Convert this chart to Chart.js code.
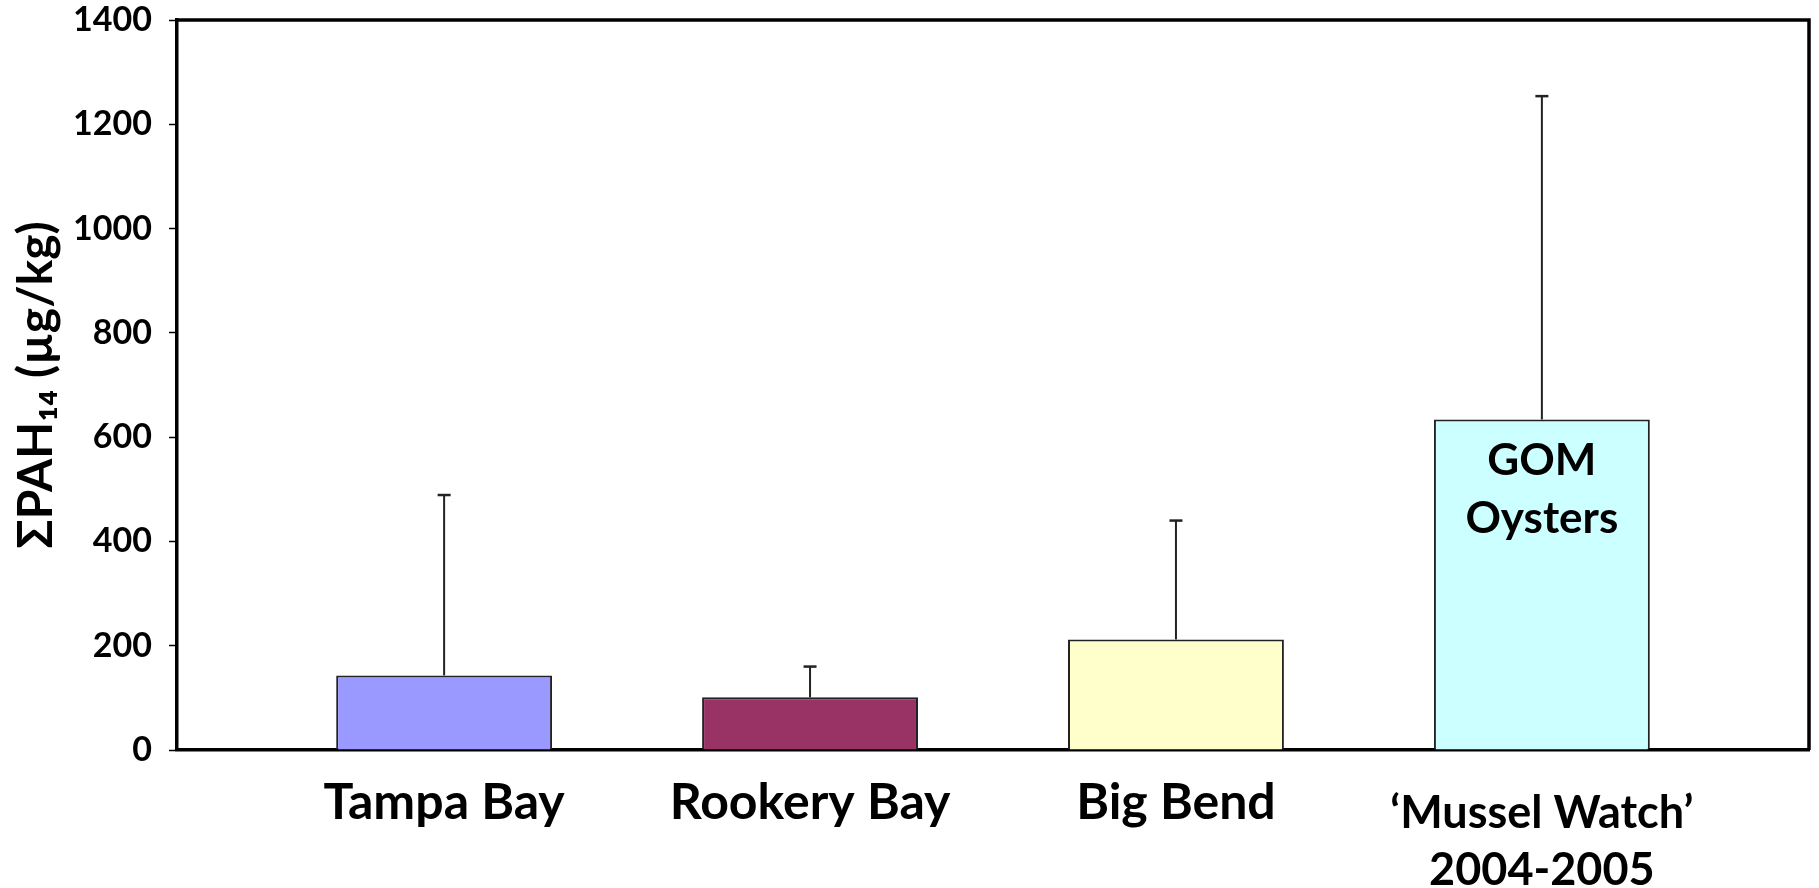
<!DOCTYPE html>
<html>
<head>
<meta charset="utf-8">
<script src="https://cdn.jsdelivr.net/npm/chart.js@4"></script>
<style>
  html, body { margin: 0; padding: 0; background: #fff; }
  #wrap { width: 1819px; height: 888px; position: relative; }
</style>
</head>
<body>
<div id="wrap"><canvas id="pah-chart"></canvas></div>
<script>
// --- Data ---
const sites = ['Tampa Bay', 'Rookery Bay', 'Big Bend', ['\u2018Mussel Watch\u2019', '2004-2005']];
const meanPAH = [143, 101, 212, 634];
const sdPAH = [346, 59, 228, 620];
const barColors = ['#9999FF', '#993366', '#FFFFCC', '#CCFFFF'];
const yTicks = [0, 200, 400, 600, 800, 1000, 1200, 1400];
const gomNote = ['GOM', 'Oysters'];

const FONT = 'Lato, "DejaVu Sans", sans-serif';

// error bars (upper only, like the Excel original)
const errorBars = {
  id: 'errorBars',
  afterDatasetsDraw(chart) {
    const { ctx, scales: { y } } = chart;
    const meta = chart.getDatasetMeta(0);
    ctx.save();
    ctx.strokeStyle = '#222';
    meta.data.forEach((bar, i) => {
      const top = y.getPixelForValue(meanPAH[i] + sdPAH[i]);
      ctx.lineWidth = 2;
      ctx.beginPath();
      ctx.moveTo(bar.x, bar.y);
      ctx.lineTo(bar.x, top);
      ctx.stroke();
      ctx.lineWidth = 2.5;
      ctx.beginPath();
      ctx.moveTo(bar.x - 6.5, top);
      ctx.lineTo(bar.x + 6.5, top);
      ctx.stroke();
    });
    ctx.restore();
  },
};

// top + right frame lines and the text inside the GOM bar
const frame = {
  id: 'frame',
  afterDraw(chart) {
    const { ctx, chartArea: a } = chart;
    ctx.save();
    ctx.strokeStyle = '#000';
    ctx.lineWidth = 3.5;
    ctx.beginPath();
    ctx.moveTo(a.left, a.top);
    ctx.lineTo(a.right, a.top);
    ctx.lineTo(a.right, a.bottom);
    ctx.stroke();

    const bar = chart.getDatasetMeta(0).data[3];
    ctx.fillStyle = '#000';
    ctx.font = `bold 44px ${FONT}`;
    ctx.textAlign = 'center';
    ctx.textBaseline = 'middle';
    ctx.fillText(gomNote[0], bar.x, bar.y + 41);
    ctx.fillText(gomNote[1], bar.x, bar.y + 99);
    ctx.restore();
  },
};

new Chart(document.getElementById('pah-chart'), {
  type: 'bar',
  data: {
    datasets: [{
      data: meanPAH.map((v, i) => ({ x: i, y: v })),
      backgroundColor: barColors,
      borderColor: '#222',
      borderWidth: 2,
      categoryPercentage: 1,
      barPercentage: 0.59,
    }],
  },
  options: {
    responsive: true,
    maintainAspectRatio: false,
    animation: false,
    layout: { padding: { top: 20, right: 10, left: 0, bottom: 0 } },
    plugins: {
      legend: { display: false },
      tooltip: { enabled: false },
    },
    scales: {
      x: {
        type: 'linear',
        offset: false,
        min: -0.73,
        max: 3.73,
        afterBuildTicks: axis => { axis.ticks = sites.map((s, i) => ({ value: i })); },
        afterFit: axis => {
          axis.height = 138;
          axis.paddingLeft = 0;
          axis.paddingRight = 0;
        },
        grid: { display: false, drawTicks: false },
        border: { display: true, color: '#000', width: 3.5 },
        ticks: {
          color: '#000',
          padding: 35,
          maxRotation: 0,
          autoSkip: false,
          callback: v => sites[v],
          // the original's labels sit a little off the bar centres
          labelOffset: c => [-21, 31, 29, 9][c.index] || 0,
          font: c => c.index === 3
            ? { family: FONT, size: 45, weight: 'bold', lineHeight: 1.27 }
            : { family: FONT, size: 50, weight: 'bold', lineHeight: 0.72 },
        },
      },
      y: {
        min: 0,
        max: 1400,
        afterBuildTicks: axis => { axis.ticks = yTicks.map(v => ({ value: v })); },
        afterFit: axis => {
          axis.width = 177;
          axis.paddingTop = 0;
          axis.paddingBottom = 0;
        },
        grid: { display: true, drawOnChartArea: false, tickLength: 8, color: '#000', tickWidth: 1.5 },
        border: { display: true, color: '#000', width: 3.5 },
        ticks: {
          color: '#000',
          padding: 17,
          callback: v => String(v),
          font: { family: FONT, size: 34, weight: 'bold' },
        },
        title: {
          display: true,
          text: '\u03A3PAH\u2081\u2084 (\u00B5g/kg)',
          color: '#000',
          padding: { top: 8, bottom: 0 },
          font: { family: FONT, size: 48, weight: 'bold' },
        },
      },
    },
  },
  plugins: [errorBars, frame],
});
</script>
</body>
</html>
